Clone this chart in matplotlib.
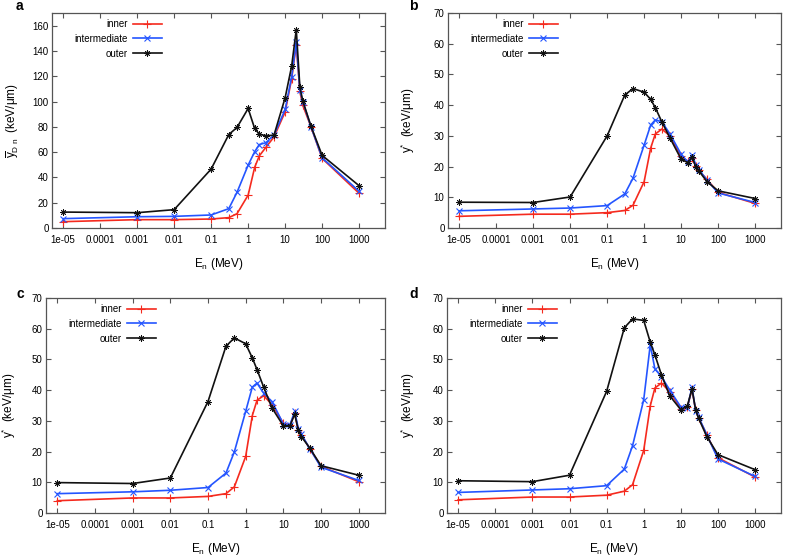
import matplotlib
matplotlib.use("Agg")
import matplotlib.pyplot as plt

plt.rcParams['font.family'] = ['Liberation Sans', 'DejaVu Sans']
plt.rcParams['mathtext.fontset'] = 'custom'
plt.rcParams['mathtext.rm'] = 'Liberation Sans'
plt.rcParams['mathtext.it'] = 'Liberation Sans:italic'
plt.rcParams['mathtext.bf'] = 'Liberation Sans:bold'

# neutron energies (MeV)
energy = [1e-5, 1e-3, 0.01, 0.1, 0.3, 0.5, 1, 1.5, 2, 3, 5, 10, 15, 20, 25, 30, 50, 100, 1000]

xtick_vals = [1e-5, 1e-4, 1e-3, 1e-2, 0.1, 1, 10, 100, 1000]
xtick_labels = ['1e-05', '0.0001', '0.001', '0.01', '0.1', '1', '10', '100', '1000']

series_names = ['inner', 'intermediate', 'outer']

# panel a: dose-mean lineal energy
a_inner = [5.0, 6.6, 6.6, 7.1, 8.2, 11.3, 26.0, 47.9, 57.0, 63.7, 72.0, 91.8, 118.0, 145.0, 108.0, 97.0, 80.0, 55.0, 27.4]
a_intermediate = [7.4, 8.9, 9.2, 10.3, 15.3, 28.2, 49.7, 60.3, 66.0, 67.4, 73.5, 93.7, 119.5, 147.0, 109.0, 100.0, 80.0, 55.5, 29.0]
a_outer = [12.6, 12.1, 14.5, 46.6, 73.9, 79.5, 94.5, 78.7, 74.2, 72.9, 73.4, 103.0, 128.0, 156.9, 111.5, 100.5, 80.5, 57.4, 33.4]

# panel b
b_inner = [3.8, 4.5, 4.5, 5.0, 5.7, 7.4, 15.1, 26.0, 30.6, 32.2, 30.0, 23.3, 21.8, 22.8, 20.2, 18.8, 15.8, 11.6, 8.0]
b_intermediate = [5.6, 6.2, 6.5, 7.3, 11.1, 16.2, 27.0, 33.5, 35.2, 34.6, 30.6, 24.0, 21.5, 23.8, 20.5, 19.0, 15.6, 11.4, 8.3]
b_outer = [8.4, 8.3, 10.1, 30.0, 43.3, 45.4, 44.2, 41.9, 39.2, 34.6, 29.3, 22.4, 21.3, 23.0, 19.8, 18.6, 15.1, 12.1, 9.6]

# panel c
c_inner = [4.0, 4.9, 4.9, 5.4, 6.3, 8.5, 18.4, 31.7, 36.7, 38.2, 35.3, 29.2, 28.5, 32.5, 27.0, 25.5, 21.0, 15.2, 10.2]
c_intermediate = [6.3, 6.9, 7.4, 8.3, 13.0, 19.9, 33.1, 41.0, 42.3, 39.0, 36.3, 29.0, 28.7, 33.1, 27.5, 25.7, 21.0, 14.9, 10.6]
c_outer = [9.9, 9.6, 11.4, 36.3, 54.3, 57.0, 55.1, 50.5, 46.7, 41.0, 34.2, 28.4, 28.4, 32.2, 26.9, 24.9, 21.2, 15.4, 12.3]

# panel d
d_inner = [4.3, 5.2, 5.2, 5.8, 7.1, 9.2, 20.4, 34.9, 40.7, 42.3, 39.5, 34.0, 34.5, 40.3, 33.5, 31.0, 25.5, 18.0, 11.7]
d_intermediate = [6.7, 7.5, 7.9, 8.9, 14.3, 21.9, 36.9, 54.8, 46.9, 44.4, 40.1, 34.5, 34.3, 41.0, 33.3, 31.3, 25.5, 17.6, 11.9]
d_outer = [10.5, 10.2, 12.3, 39.6, 60.3, 63.2, 62.7, 55.6, 51.5, 45.0, 38.2, 33.6, 34.9, 40.4, 33.6, 30.9, 24.9, 19.0, 14.1]

panel_letters = ['a', 'b', 'c', 'd']
ylabels = [r'$\overline{\mathrm{y}}_{\mathrm{D\ n}}$  (keV/μm)',
           r'$\mathrm{y}^{*}$  (keV/μm)',
           r'$\mathrm{y}^{*}$  (keV/μm)',
           r'$\mathrm{y}^{*}$  (keV/μm)']
xlabel = r'E$_\mathrm{n}$ (MeV)'

W, H = 787, 557
fig = plt.figure(figsize=(W / 100, H / 100), dpi=100)

# axes boxes in pixels: left, top, right, bottom
boxes = [(52, 13, 385, 228), (448, 13, 781, 228), (46, 298, 385, 513), (447, 298, 781, 513)]
letter_pos = [(19.5, 6.5), (413.5, 6.0), (20, 293.5), (413.5, 294)]
ylab_right_px = [21, 417, 18, 417]
ymax = [170, 70, 70, 70]
ytop_tick = [160, 70, 70, 70]
ystep = [20, 10, 10, 10]

data = [(a_inner, a_intermediate, a_outer),
        (b_inner, b_intermediate, b_outer),
        (c_inner, c_intermediate, c_outer),
        (d_inner, d_intermediate, d_outer)]

colors = ['#f52a1e', '#2455ff', '#111111']
markers = ['+', 'x', (8, 2, 0)]
msizes = [6, 4.5, 4.5]
mews = [0.8, 0.8, 0.6]

spine_col = '#555555'

for i, (l, t, r, b) in enumerate(boxes):
    ax = fig.add_axes([l / W, 1 - b / H, (r - l) / W, (b - t) / H])
    for vals, name, c, m, ms, mw in zip(data[i], series_names, colors, markers, msizes, mews):
        ax.plot(energy, vals, color=c, marker=m, markersize=ms, markeredgewidth=mw,
                linewidth=1.2, label=name)
    ax.set_xscale('log')
    ax.set_xlim(5e-6, 5000)
    ax.set_ylim(0, ymax[i])
    ax.set_xticks(xtick_vals)
    ax.set_xticklabels(xtick_labels)
    ax.minorticks_off()
    ax.set_yticks(list(range(0, ytop_tick[i] + 1, ystep[i])))
    ax.tick_params(axis='both', which='both', direction='in', length=3.5, width=0.8,
                   colors=spine_col, labelcolor='black', labelsize=7,
                   top=True, right=True)
    ax.tick_params(axis='x', pad=5)
    ax.tick_params(axis='y', pad=2.5)
    for s in ax.spines.values():
        s.set_color(spine_col)
        s.set_linewidth(0.9)
    ax.set_xlabel(xlabel, fontsize=8.5)
    ax.xaxis.set_label_coords(0.5, -0.13)
    ax.set_ylabel(ylabels[i], fontsize=8.5)
    ax.yaxis.set_label_coords((ylab_right_px[i] - l) / (r - l), 0.5)
    leg = ax.legend(loc='upper right', bbox_to_anchor=(110 / (r - l), 1 - 6 / (b - t)),
                    frameon=False, fontsize=7, markerfirst=False, borderpad=0,
                    borderaxespad=0, handlelength=3.0, handletextpad=0.5,
                    labelspacing=0.5)
    lx, ly = letter_pos[i]
    fig.text(lx / W, 1 - ly / H, panel_letters[i], fontsize=10, fontweight='bold',
             ha='center', va='center')

fig.savefig('out.png', dpi=100)
